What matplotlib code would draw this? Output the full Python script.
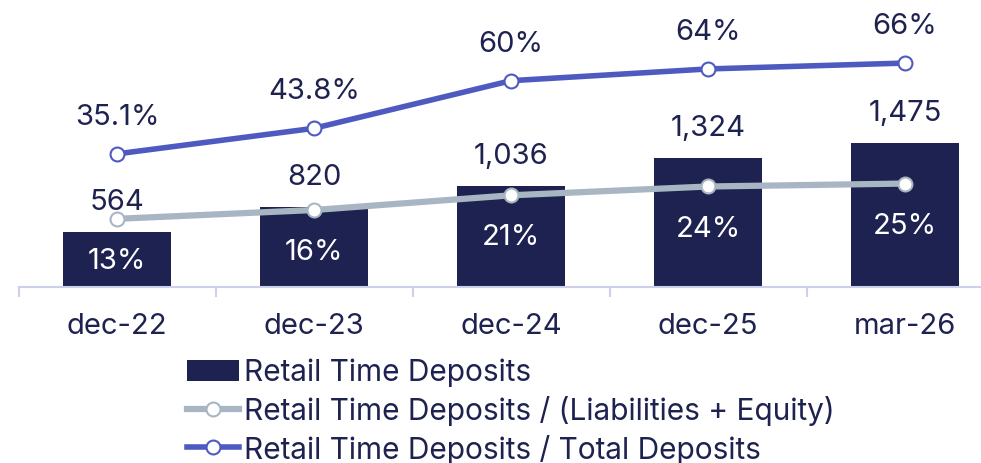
import matplotlib
matplotlib.use("Agg")
import matplotlib.pyplot as plt
from matplotlib.lines import Line2D
from matplotlib.patches import Patch

# data
periods = ["dec-22", "dec-23", "dec-24", "dec-25", "mar-26"]
deposits = [564, 820, 1036, 1324, 1475]
deposit_labels = ["564", "820", "1,036", "1,324", "1,475"]
pct_liab = [13, 16, 21, 24, 25]
pct_liab_labels = ["13%", "16%", "21%", "24%", "25%"]
pct_total = [35.1, 43.8, 60, 64, 66]
pct_total_labels = ["35.1%", "43.8%", "60%", "64%", "66%"]

navy = "#1e2250"
blue = "#4f5ac0"
grey = "#a8b6c3"
axis_col = "#cdd0ea"

plt.rcParams["font.family"] = ["Inter", "DejaVu Sans"]

fig = plt.figure(figsize=(9.81, 4.64), dpi=100)
W, H = 981, 464
ax = fig.add_axes([18.5 / W, 176 / H, 985 / W, 288 / H])
ax2 = ax.twinx()

x = list(range(len(periods)))
ax.bar(x, deposits, width=0.55, color=navy, zorder=2)
ax.set_xlim(-0.5, 4.5)
ax.set_ylim(0, 2954)
ax2.set_ylim(-10.2, 87.8)

ax2.plot(x, pct_liab, color=grey, lw=4.5, marker="o", ms=10,
         mfc="white", mec=grey, mew=1.5, zorder=3)
ax2.plot(x, pct_total, color=blue, lw=4, marker="o", ms=10,
         mfc="white", mec=blue, mew=1.5, zorder=3)

fs = 21
for i in x:
    ax.annotate(deposit_labels[i], (i, deposits[i]), xytext=(0, 22),
                textcoords="offset points", ha="center", va="center",
                fontsize=fs, color=navy)
    ax2.annotate(pct_liab_labels[i], (i, pct_liab[i]), xytext=(0, -30),
                 textcoords="offset points", ha="center", va="center",
                 fontsize=fs, color="white")
    ax2.annotate(pct_total_labels[i], (i, pct_total[i]), xytext=(0, 27),
                 textcoords="offset points", ha="center", va="center",
                 fontsize=fs, color=navy)

for a in (ax, ax2):
    for s in ["top", "right", "left"]:
        a.spines[s].set_visible(False)
    a.set_yticks([])
ax2.spines["bottom"].set_visible(False)
ax.spines["bottom"].set_color(axis_col)
ax.spines["bottom"].set_linewidth(1.5)
ax.set_xticks(x)
ax.set_xticklabels(periods, fontsize=fs, color=navy)
ax.tick_params(axis="x", which="major", length=0, pad=18)
ax.set_xticks([i - 0.5 for i in x] + [4.5], minor=True)
ax.tick_params(axis="x", which="minor", length=7, width=1.5, color=axis_col)

handles = [
    Patch(facecolor=navy, edgecolor="none"),
    Line2D([], [], color=grey, lw=4.5, marker="o", ms=10, mfc="white", mec=grey, mew=1.5),
    Line2D([], [], color=blue, lw=4, marker="o", ms=10, mfc="white", mec=blue, mew=1.5),
]
labels = ["Retail Time Deposits",
          "Retail Time Deposits / (Liabilities + Equity)",
          "Retail Time Deposits / Total Deposits"]
fig.legend(handles, labels, loc="upper left", bbox_to_anchor=(187 / W, 1 - 359 / H),
           frameon=False, fontsize=21.5, handlelength=1.75, handletextpad=0.15,
           labelspacing=0.29, borderpad=0, borderaxespad=0, labelcolor=navy)

fig.savefig("out.png", dpi=100)
